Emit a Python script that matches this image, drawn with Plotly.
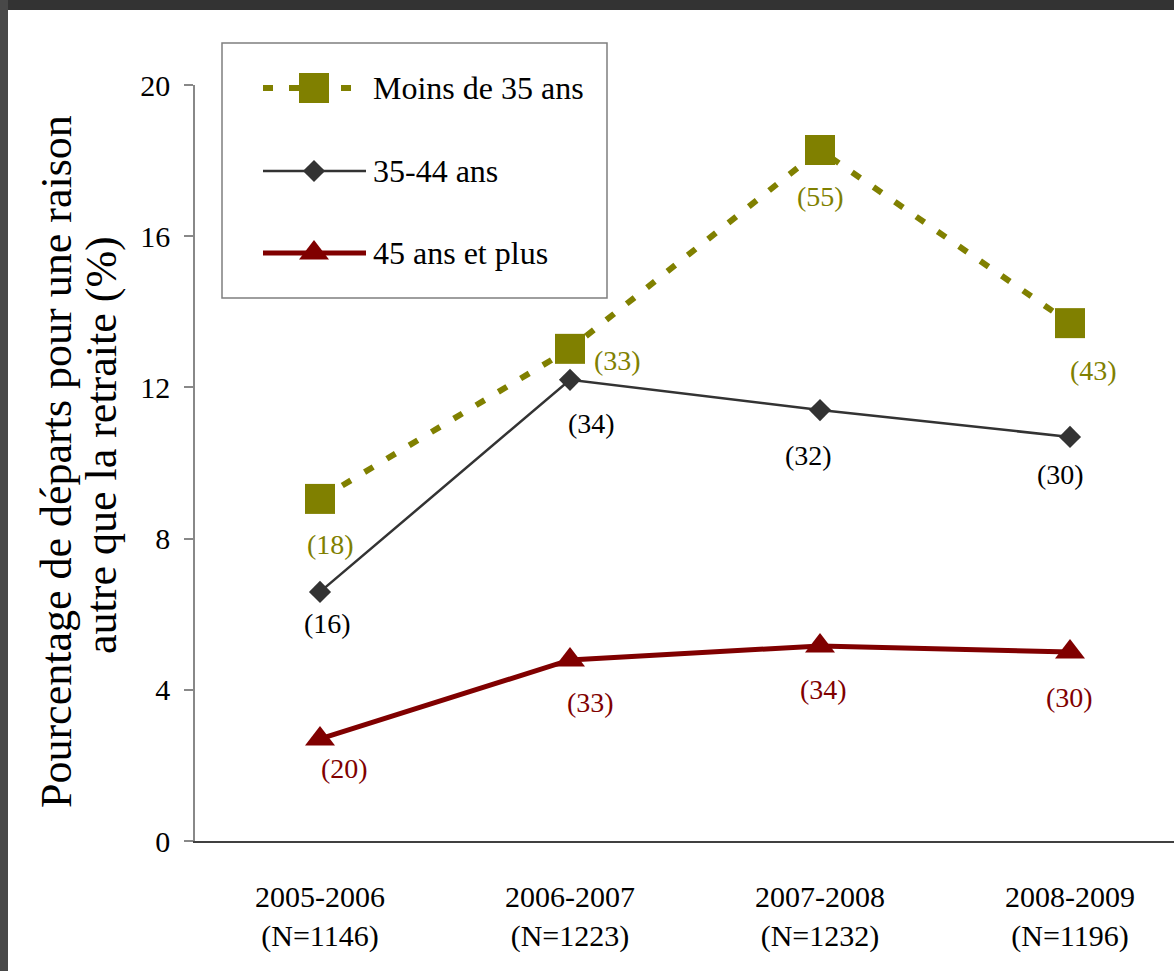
"""Départs pour une raison autre que la retraite, par groupe d'âge."""

import plotly.graph_objects as go

periods = ["2005-2006", "2006-2007", "2007-2008", "2008-2009"]
n_totals = [1146, 1223, 1232, 1196]

moins_35 = [9.05, 13.02, 18.28, 13.70]
moins_35_n = [18, 33, 55, 43]

ans_35_44 = [6.59, 12.20, 11.40, 10.69]
ans_35_44_n = [16, 34, 32, 30]

plus_45 = [2.70, 4.79, 5.16, 5.00]
plus_45_n = [20, 33, 34, 30]

y_ticks = [0, 4, 8, 12, 16, 20]
y_title = ["Pourcentage de départs pour une raison", "autre que la retraite (%)"]

FONT = "Liberation Serif"
OLIVE = "#808000"
GREY = "#333333"
RED = "#800000"

W, H = 1174, 971
L, R, T, B = 195, 0, 85, 130
PW, PH = W - L - R, H - T - B


def px_x(px):
    return (px - L) / PW


def px_y(py):
    return (H - B - py) / PH


x_labels = [f"{p}<br>(N={n})" for p, n in zip(periods, n_totals)]

series = [
    ("Moins de 35 ans", moins_35, moins_35_n, OLIVE,
     dict(color=OLIVE, width=6, dash="10px,16px"),
     dict(symbol="square", size=30, color=OLIVE),
     [(10, 46), (47, 12), (0, 46), (23, 47)]),
    ("35-44 ans", ans_35_44, ans_35_44_n, "#000000",
     dict(color=GREY, width=2.5),
     dict(symbol="diamond", size=17, color=GREY),
     [(7, 32), (21, 44), (-12, 45), (-10, 38)]),
    ("45 ans et plus", plus_45, plus_45_n, RED,
     dict(color=RED, width=5),
     dict(symbol="triangle-up", size=26, color=RED),
     [(24, 30), (20, 43), (3, 44), (-1, 45)]),
]

fig = go.Figure()
annotations = []

for name, vals, counts, txt_color, line, marker, offsets in series:
    fig.add_trace(
        go.Scatter(
            x=x_labels,
            y=vals,
            name=name,
            mode="lines+markers",
            line=line,
            marker=marker,
            cliponaxis=False,
            showlegend=False,
        )
    )
    for xl, v, c, (dx, dy) in zip(x_labels, vals, counts, offsets):
        annotations.append(
            dict(
                x=xl, y=v, xref="x", yref="y",
                text=f"({c})", showarrow=False,
                xshift=dx, yshift=-dy,
                font=dict(family=FONT, size=28, color=txt_color),
            )
        )

# hand-made legend box (drawn in pixel positions)
shapes = [
    dict(type="rect", xref="paper", yref="paper",
         x0=px_x(222), x1=px_x(607), y0=px_y(298), y1=px_y(43),
         line=dict(color="#7f7f7f", width=1.5), fillcolor="white", layer="below"),
    # dark frame of the original slide
    dict(type="rect", xref="paper", yref="paper",
         x0=px_x(-5), x1=px_x(W + 5), y0=px_y(10), y1=px_y(-5),
         line=dict(width=0), fillcolor="#333333"),
    dict(type="rect", xref="paper", yref="paper",
         x0=px_x(-5), x1=px_x(8), y0=px_y(H + 5), y1=px_y(-5),
         line=dict(width=0), fillcolor="#484848"),
]

legend_rows = [88, 171, 253]
for (name, vals, counts, txt_color, line, marker, offsets), ry in zip(series, legend_rows):
    fig.add_trace(
        go.Scatter(
            x=[px_x(263), px_x(366)],
            y=[px_y(ry), px_y(ry)],
            mode="lines",
            line=line,
            xaxis="x2", yaxis="y2",
            showlegend=False, hoverinfo="skip", cliponaxis=False,
        )
    )
    fig.add_trace(
        go.Scatter(
            x=[px_x(314)],
            y=[px_y(ry)],
            mode="markers",
            marker=marker,
            xaxis="x2", yaxis="y2",
            showlegend=False, hoverinfo="skip", cliponaxis=False,
        )
    )
    annotations.append(
        dict(
            x=px_x(371), y=px_y(ry), xref="paper", yref="paper",
            text=name, showarrow=False, xanchor="left", yanchor="middle",
            font=dict(family=FONT, size=32, color="black"),
        )
    )

# y-axis title, one annotation per line
for text, cx, cy in zip(y_title, [56, 101], [462, 445]):
    annotations.append(
        dict(
            x=px_x(cx), y=px_y(cy), xref="paper", yref="paper",
            text=text, showarrow=False, textangle=-90,
            xanchor="center", yanchor="middle",
            font=dict(family=FONT, size=44, color="black"),
        )
    )

fig.update_layout(
    width=W,
    height=H,
    autosize=False,
    margin=dict(l=L, r=R, t=T, b=B, pad=0),
    paper_bgcolor="white",
    plot_bgcolor="white",
    font=dict(family=FONT, color="black"),
    showlegend=False,
    shapes=shapes,
    annotations=annotations,
    xaxis=dict(
        type="category",
        categoryorder="array",
        categoryarray=x_labels,
        range=[-0.5, 3.416],
        showline=True,
        linecolor="#404040",
        linewidth=1.5,
        showgrid=False,
        zeroline=False,
        ticks="",
        ticklabelstandoff=28,
        tickfont=dict(family=FONT, size=30, color="black"),
    ),
    yaxis=dict(
        range=[0, 20],
        tickvals=y_ticks,
        showline=True,
        linecolor="#888888",
        linewidth=1.5,
        showgrid=False,
        zeroline=False,
        ticks="outside",
        ticklen=9,
        tickcolor="#888888",
        tickwidth=1.5,
        ticklabelstandoff=8,
        tickfont=dict(family=FONT, size=30, color="black"),
    ),
    xaxis2=dict(overlaying="x", range=[0, 1], visible=False, fixedrange=True),
    yaxis2=dict(overlaying="y", range=[0, 1], visible=False, fixedrange=True),
)

# page margin off so the figure sits at the window's top-left corner
fig.write_html(
    "out.html",
    config={"displayModeBar": False},
    post_script="document.body.style.margin = '0';",
)
